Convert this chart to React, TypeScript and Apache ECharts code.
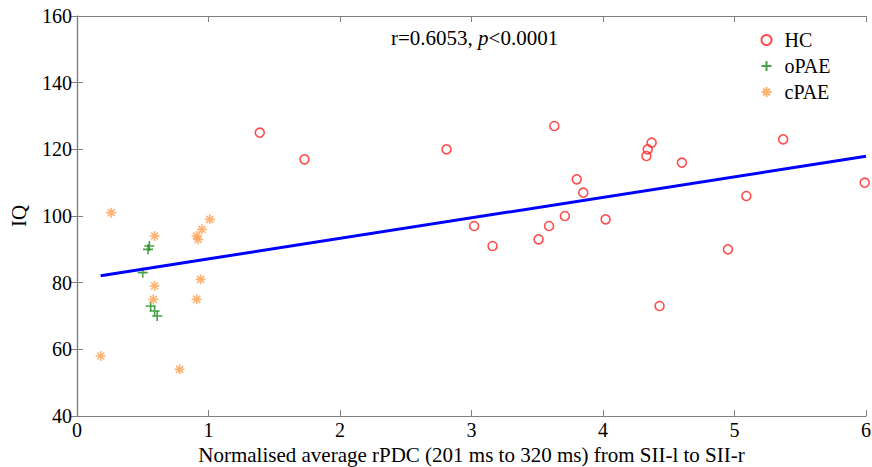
import React, { useEffect, useRef } from "react";
import * as echarts from "echarts";

const hcX = [1.39, 1.73, 2.81, 3.02, 3.16, 3.51, 3.59, 3.63, 3.71, 3.8, 3.85, 4.02, 4.33, 4.34, 4.37, 4.43, 4.6, 4.95, 5.09, 5.37, 5.99];
const hcY = [125, 117, 120, 97, 91, 93, 97, 127, 100, 111, 107, 99, 118, 120, 122, 73, 116, 90, 106, 123, 110];
const oX = [0.55, 0.54, 0.5, 0.56, 0.59, 0.61];
const oY = [91, 90, 83, 73, 71.5, 70];
const cX = [0.26, 0.59, 1.01, 0.95, 0.91, 0.92, 0.59, 0.94, 0.58, 0.91, 0.18, 0.78];
const cY = [101, 94, 99, 96, 94, 93, 79, 81, 75, 75, 58, 54];
const fitX = [0.18, 6.0];
const fitY = [82.1, 117.9];
const seriesNames = ["HC", "oPAE", "cPAE"];

const PLUS = "path://M0,5L10,5M5,0L5,10";
const STAR = "path://M0,5L10,5M5,0L5,10M1.5,1.5L8.5,8.5M1.5,8.5L8.5,1.5";
const FONT = "Liberation Serif";
const AXIS = "#808080";

const zip = (xs: number[], ys: number[]) => xs.map((x, i) => [x, ys[i]]);

export default function App() {
  const ref = useRef<HTMLDivElement>(null);
  useEffect(() => {
    const chart = echarts.init(ref.current!, null, { renderer: "svg" });
    const axisCommon = {
      axisLine: { show: true, lineStyle: { color: AXIS, width: 1.2 } },
      axisTick: { show: true, inside: true, length: 6, lineStyle: { color: AXIS } },
      splitLine: { show: false },
    };
    const label = { color: "#000", fontFamily: FONT, fontSize: 20 };
    chart.setOption({
      animation: false,
      backgroundColor: "#fff",
      textStyle: { fontFamily: FONT },
      grid: { left: 77, right: 6, top: 16, bottom: 51, outerBoundsMode: "none", containLabel: false },
      title: {
        text: "{a|r=0.6053, }{b|p}{a|<0.0001}",
        left: 386,
        top: 22,
        textStyle: {
          fontWeight: "normal",
          rich: {
            a: { fontFamily: FONT, fontSize: 21, color: "#000", fontWeight: "normal" },
            b: { fontFamily: FONT, fontSize: 21, color: "#000", fontStyle: "italic", fontWeight: "normal" },
          },
        },
      },
      legend: {
        orient: "vertical",
        left: 754,
        top: 25,
        itemGap: 6,
        itemWidth: 10,
        itemHeight: 10,
        textStyle: { fontFamily: FONT, fontSize: 20, color: "#000", padding: [0, 0, 0, 8] },
        data: seriesNames,
      },
      xAxis: [
        {
          type: "value", min: 0, max: 6, interval: 1, position: "bottom",
          ...axisCommon,
          axisLabel: { ...label, fontWeight: "normal", margin: 4 },
          name: "Normalised average rPDC (201 ms to 320 ms) from SII-l to SII-r",
          nameLocation: "middle",
          nameGap: 21,
          nameTextStyle: { ...label, fontSize: 21 },
        },
        {
          type: "value", min: 0, max: 6, interval: 1, position: "top",
          ...axisCommon, axisLabel: { show: false },
        },
      ],
      yAxis: [
        {
          type: "value", min: 40, max: 160, interval: 20, position: "left",
          ...axisCommon,
          axisLabel: { ...label, fontWeight: "normal", margin: 5 },
          name: "IQ",
          nameLocation: "middle",
          nameGap: 48,
          nameTextStyle: { ...label, fontSize: 21 },
        },
        {
          type: "value", min: 40, max: 160, interval: 20, position: "right",
          ...axisCommon, axisLabel: { show: false },
        },
      ],
      series: [
        {
          name: "HC", type: "scatter", data: zip(hcX, hcY),
          symbol: "circle", symbolSize: 9,
          itemStyle: { color: "rgba(0,0,0,0)", borderColor: "#ff2020", borderWidth: 1.6 },
        },
        {
          name: "oPAE", type: "scatter", data: zip(oX, oY),
          symbol: PLUS, symbolSize: 10,
          itemStyle: { color: "none", borderColor: "#1a8a1a", borderWidth: 1.6 },
        },
        {
          name: "cPAE", type: "scatter", data: zip(cX, cY),
          symbol: STAR, symbolSize: 10,
          itemStyle: { color: "none", borderColor: "#ffa050", borderWidth: 1.6 },
        },
        {
          name: "fit", type: "line", data: zip(fitX, fitY),
          symbol: "none", lineStyle: { color: "#0000ff", width: 3 },
        },
      ],
    });
    return () => chart.dispose();
  }, []);
  return <div ref={ref} style={{ width: 872, height: 467, position: "absolute", left: 0, top: 0 }} />;
}
